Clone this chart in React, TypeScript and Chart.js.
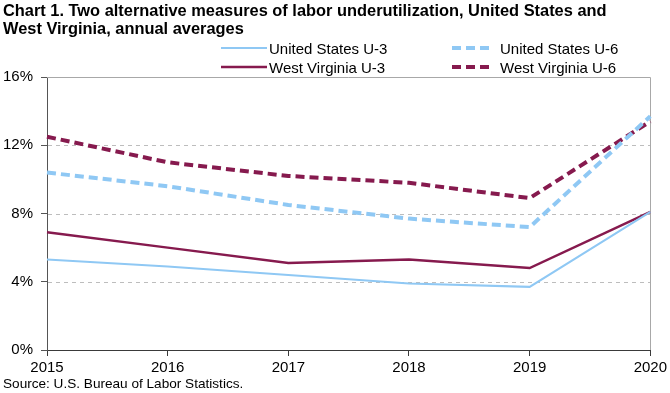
import React, { useEffect, useRef } from "react";
import { Chart, registerables } from "chart.js";

Chart.register(...registerables);

const years = ["2015", "2016", "2017", "2018", "2019", "2020"];
const usU3 = [5.3, 4.9, 4.4, 3.9, 3.7, 8.1];
const usU6 = [10.4, 9.6, 8.5, 7.7, 7.2, 13.7];
const wvU3 = [6.9, 6.0, 5.1, 5.3, 4.8, 8.1];
const wvU6 = [12.5, 11.0, 10.2, 9.8, 8.9, 13.4];
const yTicksMax = 16;
const yStep = 4;

const LIGHT_BLUE = "#8FC8F4";
const MAROON = "#861A4E";
const FONT = "'Liberation Sans', Arial, sans-serif";
const NARROW = "'Liberation Sans Narrow', 'Arial Narrow', 'Liberation Sans', sans-serif";

const legendItems = [
  { label: "United States U-3", color: LIGHT_BLUE, dash: false, width: 2, x: 221, y: 48 },
  { label: "United States U-6", color: LIGHT_BLUE, dash: true, width: 4, x: 452, y: 48 },
  { label: "West Virginia U-3", color: MAROON, dash: false, width: 2.5, x: 221, y: 67 },
  { label: "West Virginia U-6", color: MAROON, dash: true, width: 4, x: 452, y: 67 },
];

const gridPlugin = {
  id: "customGrid",
  beforeDatasetsDraw(chart: any) {
    const { ctx, chartArea, scales } = chart;
    const y = scales.y;
    const { left, right, top } = chartArea;
    ctx.save();
    ctx.strokeStyle = "#BDBDBD";
    ctx.lineWidth = 1;
    ctx.setLineDash([4, 4]);
    y.ticks.forEach((t: any) => {
      if (t.value > 0 && t.value < yTicksMax) {
        const py = Math.round(y.getPixelForValue(t.value)) + 0.5;
        ctx.beginPath();
        ctx.moveTo(left + 1, py);
        ctx.lineTo(right, py);
        ctx.stroke();
      }
    });
    ctx.setLineDash([]);
    ctx.strokeStyle = "#A8A8A8";
    const ty = Math.round(top) + 0.5;
    const rx = Math.round(right) + 0.5;
    ctx.beginPath();
    ctx.moveTo(left, ty);
    ctx.lineTo(rx, ty);
    ctx.lineTo(rx, chartArea.bottom);
    ctx.stroke();
    ctx.restore();
  },
};

export default function App() {
  const ref = useRef<HTMLCanvasElement | null>(null);

  useEffect(() => {
    if (!ref.current) return;
    const chart = new Chart(ref.current, {
      type: "line",
      data: {
        labels: years,
        datasets: [
          { label: "United States U-3", data: usU3, borderColor: LIGHT_BLUE, borderWidth: 2, pointRadius: 0, tension: 0 },
          { label: "United States U-6", data: usU6, borderColor: LIGHT_BLUE, borderWidth: 4, borderDash: [9, 5], pointRadius: 0, tension: 0 },
          { label: "West Virginia U-3", data: wvU3, borderColor: MAROON, borderWidth: 2.5, pointRadius: 0, tension: 0 },
          { label: "West Virginia U-6", data: wvU6, borderColor: MAROON, borderWidth: 4, borderDash: [9, 5], pointRadius: 0, tension: 0 },
        ],
      },
      options: {
        responsive: false,
        animation: false,
        layout: { padding: { top: 77, right: 17, left: 0, bottom: 0 } },
        plugins: { legend: { display: false }, title: { display: false }, tooltip: { enabled: false } },
        scales: {
          x: {
            type: "category",
            offset: false,
            grid: { drawOnChartArea: false, drawTicks: true, tickLength: 6, tickColor: "#3A3A3A" },
            border: { color: "#3A3A3A", width: 1 },
            ticks: { color: "#000", font: { family: FONT, size: 15 }, padding: 3, maxRotation: 0, autoSkip: false },
            afterFit: (s: any) => { s.height = 43; },
          },
          y: {
            min: 0,
            max: yTicksMax,
            grid: { drawOnChartArea: false, drawTicks: true, tickLength: 6, tickColor: "#555" },
            border: { color: "#555", width: 1 },
            ticks: {
              stepSize: yStep,
              color: "#000",
              font: { family: FONT, size: 15 },
              padding: 8,
              callback: (v: any) => `${v}%`,
            },
            afterFit: (s: any) => { s.width = 47; },
          },
        },
      },
      plugins: [gridPlugin],
    });
    return () => chart.destroy();
  }, []);

  return (
    <div style={{ position: "absolute", left: 0, top: 0, width: 670, height: 393, background: "#fff", overflow: "hidden" }}>
      <canvas ref={ref} width={670} height={393} style={{ position: "absolute", left: 0, top: 0 }} />
      <div style={{ position: "absolute", left: 3, top: 1, fontFamily: NARROW, fontWeight: "bold", fontSize: 16.4, lineHeight: "18px", color: "#000", width: 660 }}>
        Chart 1. Two alternative measures of labor underutilization, United States and
        <br />
        West Virginia, annual averages
      </div>
      {legendItems.map((it) => (
        <div key={it.label} style={{ position: "absolute", left: it.x, top: it.y - 9, height: 18, display: "flex", alignItems: "center" }}>
          <svg width={46} height={18} style={{ display: "block" }}>
            <line x1={0} y1={9} x2={it.dash ? 41 : 46} y2={9} stroke={it.color} strokeWidth={it.width} strokeDasharray={it.dash ? "9 5" : undefined} />
          </svg>
          <span style={{ fontFamily: FONT, fontSize: 15, color: "#000", marginLeft: 2, whiteSpace: "nowrap" }}>{it.label}</span>
        </div>
      ))}
      <div style={{ position: "absolute", left: 3, top: 376, fontFamily: FONT, fontSize: 13.6, color: "#000", whiteSpace: "nowrap" }}>
        Source: U.S. Bureau of Labor Statistics.
      </div>
    </div>
  );
}
